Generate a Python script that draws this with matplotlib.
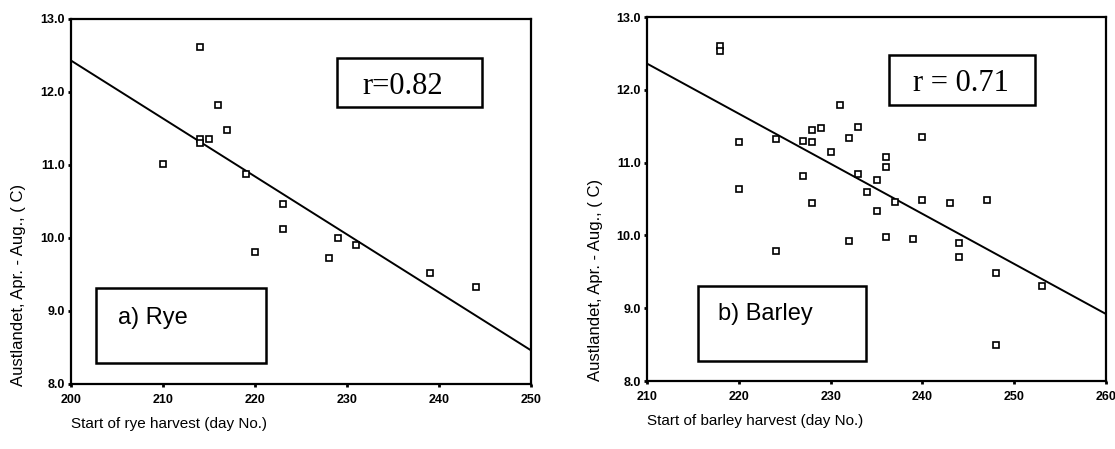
import matplotlib
matplotlib.use('Agg')
import matplotlib.pyplot as plt
from matplotlib.patches import Rectangle

# a) Rye: start of harvest (day no.) vs. mean temperature Apr-Aug
rye_day = [214, 216, 217, 215, 214, 214, 210, 219, 223, 223, 220, 229, 231, 228, 239, 244]
rye_temp = [12.61, 11.82, 11.48, 11.35, 11.35, 11.30, 11.01, 10.88, 10.46, 10.12,
            9.81, 10.00, 9.91, 9.73, 9.52, 9.33]
rye_fit_x = [200, 250]
rye_fit_y = [12.43, 8.46]

# b) Barley
barley_day = [218, 218, 220, 220, 224, 224, 227, 227, 228, 228, 228, 229, 230, 231,
              232, 232, 233, 233, 234, 235, 235, 236, 236, 236, 237, 239, 240, 240,
              243, 244, 244, 247, 248, 248, 253]
barley_temp = [12.60, 12.54, 11.29, 10.64, 11.33, 9.78, 11.30, 10.82, 11.45, 11.28,
               10.44, 11.48, 11.15, 11.79, 11.34, 9.93, 11.49, 10.85, 10.59, 10.76,
               10.34, 11.08, 10.94, 9.98, 10.46, 9.95, 11.35, 10.48, 10.45, 9.90,
               9.70, 10.48, 9.48, 8.50, 9.30]
barley_fit_x = [210, 260]
barley_fit_y = [12.36, 8.92]

y_ticks = [8.0, 9.0, 10.0, 11.0, 12.0, 13.0]
ylabel = 'Austlandet, Apr. - Aug., ( C)'

fig = plt.figure(figsize=(11.15, 4.49), dpi=100)
ax1 = fig.add_axes([0.0637, 0.1448, 0.4126, 0.813])
ax2 = fig.add_axes([0.5803, 0.1514, 0.4117, 0.8107])

panels = [
    (ax1, rye_day, rye_temp, rye_fit_x, rye_fit_y, (200, 250), range(200, 251, 10),
     'Start of rye harvest (day No.)', 'r=0.82', (236.0, 12.08), (228.9, 11.79, 15.8, 0.68),
     'a) Rye', (205.1, 8.91), (202.7, 8.29, 18.5, 1.03), (-0.098, 0.27)),
    (ax2, barley_day, barley_temp, barley_fit_x, barley_fit_y, (210, 260), range(210, 261, 10),
     'Start of barley harvest (day No.)', 'r = 0.71', (244.2, 12.09), (236.4, 11.79, 15.9, 0.69),
     'b) Barley', (217.7, 8.92), (215.5, 8.28, 18.4, 1.02), (-0.096, 0.277)),
]

for (ax, xs, ys, fx, fy, xlim, xt, xlabel, rtext, rpos, rbox,
     ptext, ppos, pbox, ylab_xy) in panels:
    ax.plot(xs, ys, linestyle='none', marker='s', markersize=4, markerfacecolor='white',
            markeredgecolor='black', markeredgewidth=1.2, zorder=3)
    ax.plot(fx, fy, color='black', linewidth=1.4, zorder=2)
    ax.set_xlim(*xlim)
    ax.set_ylim(8.0, 13.0)
    ax.set_xticks(list(xt))
    ax.set_yticks(y_ticks)
    ax.set_yticklabels(['%.1f' % v for v in y_ticks])
    for s in ax.spines.values():
        s.set_linewidth(1.6)
    ax.tick_params(direction='out', length=2.5, width=2)
    ax.tick_params(axis='x', pad=5)
    ax.tick_params(axis='y', pad=2)
    for lab in ax.get_xticklabels() + ax.get_yticklabels():
        lab.set_fontfamily('Liberation Sans')
        lab.set_fontweight('bold')
        lab.set_fontsize(9)

    ax.set_ylabel(ylabel, fontsize=12, fontfamily='Liberation Sans')
    ax.yaxis.set_label_coords(*ylab_xy)
    ax.text(0.0, -0.11, xlabel, transform=ax.transAxes, ha='left', va='center',
            fontsize=11, fontfamily='Liberation Sans')

    ax.add_patch(Rectangle(rbox[:2], rbox[2], rbox[3], fill=False, edgecolor='black',
                           linewidth=1.8, zorder=4))
    ax.text(rpos[0], rpos[1], rtext, ha='center', va='center', fontsize=22,
            fontfamily='Liberation Serif', zorder=5)
    ax.add_patch(Rectangle(pbox[:2], pbox[2], pbox[3], fill=False, edgecolor='black',
                           linewidth=1.8, zorder=4))
    ax.text(ppos[0], ppos[1], ptext, ha='left', va='center', fontsize=17,
            fontfamily='Liberation Sans', zorder=5)

fig.savefig('out.png', dpi=100)
plt.close(fig)
